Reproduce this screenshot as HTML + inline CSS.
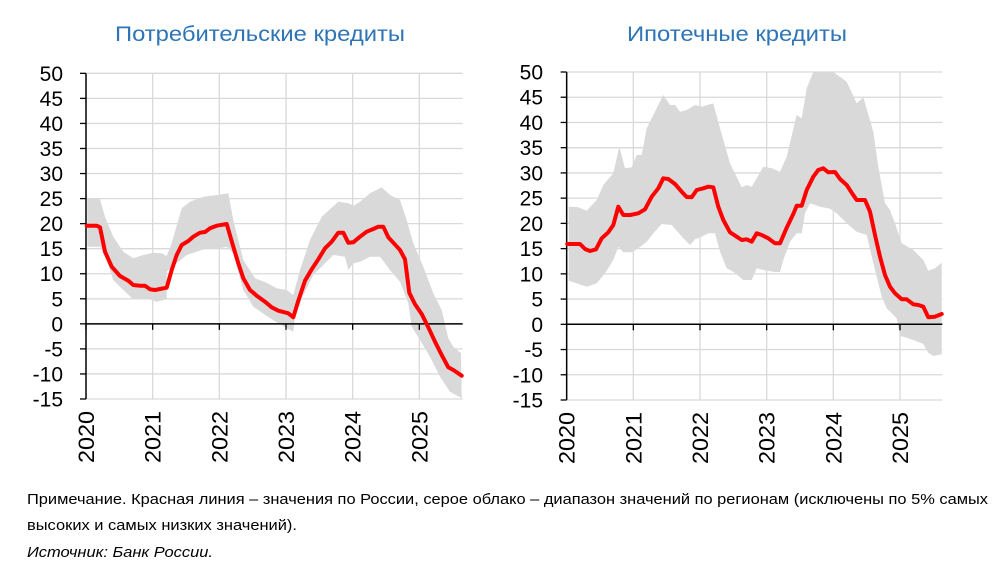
<!DOCTYPE html>
<html><head><meta charset="utf-8"><style>
body{margin:0;background:#fff;width:995px;height:583px;overflow:hidden}
svg{display:block}
text{font-family:"Liberation Sans","DejaVu Sans",sans-serif}
</style></head><body>
<svg id="s" width="995" height="583" xmlns="http://www.w3.org/2000/svg">
<text x="260" y="41" text-anchor="middle" font-size="21" fill="#2E75B6" textLength="290" lengthAdjust="spacingAndGlyphs">Потребительские кредиты</text>
<text x="737" y="41" text-anchor="middle" font-size="21" fill="#2E75B6" textLength="220" lengthAdjust="spacingAndGlyphs">Ипотечные кредиты</text>
<text x="27" y="504" font-size="15" textLength="961" lengthAdjust="spacingAndGlyphs">Примечание. Красная линия – значения по России, серое облако – диапазон значений по регионам (исключены по 5% самых</text>
<text x="27" y="530" font-size="15" textLength="270" lengthAdjust="spacingAndGlyphs">высоких и самых низких значений).</text>
<text x="27" y="557" font-size="15" font-style="italic" textLength="186" lengthAdjust="spacingAndGlyphs">Источник: Банк России.</text>
<g id="c1"></g><g id="c2"></g>
</svg>
<script>
var NS="http://www.w3.org/2000/svg";
function el(p,t,a,txt){var e=document.createElementNS(NS,t);for(var k in a)e.setAttribute(k,a[k]);if(txt!=null)e.textContent=txt;p.appendChild(e);return e;}
function pts(a,ox){var r=[];for(var i=0;i<a.length;i+=2)r.push((ox+a[i]/3).toFixed(1)+","+(60+a[i+1]/3).toFixed(1));return r.join(" ");}
function chart(g,ox,zAxis,zTop,zBot,zRight,labRight,band,line){
 var ax=ox+zAxis/3,top=60+zTop/3,bot=60+zBot/3,right=ox+zRight/3;
 var step=(bot-top)/13,yw=200/3;
 el(g,"polygon",{points:pts(band,ox),fill:"#d9d9d9"});
 for(var i=0;i<=13;i++){var y=top+i*step;el(g,"line",{x1:ax,x2:right,y1:y,y2:y,stroke:"#d9d9d9","stroke-width":1.3});}
 for(var j=1;j<=5;j++){var x=ax+j*yw;el(g,"line",{x1:x,x2:x,y1:top,y2:bot,stroke:"#d9d9d9","stroke-width":1.3});}
 var z=top+10*step;
 el(g,"line",{x1:ax,x2:right,y1:z,y2:z,stroke:"#000","stroke-width":1.5});
 el(g,"line",{x1:ax,x2:ax,y1:top,y2:bot,stroke:"#000","stroke-width":1.5});
 for(var i=0;i<=13;i++){var y=top+i*step;el(g,"line",{x1:ax-6,x2:ax,y1:y,y2:y,stroke:"#000","stroke-width":1.3});
  el(g,"text",{x:labRight,y:y+7.5,"text-anchor":"end","font-size":21,fill:"#000"},String(50-5*i));}
 for(var j=0;j<=5;j++){var x=ax+j*yw;el(g,"line",{x1:x,x2:x,y1:z,y2:z+6,stroke:"#000","stroke-width":1.3});
  el(g,"text",{x:0,y:0,"font-size":22,"text-anchor":"end",textLength:52,lengthAdjust:"spacingAndGlyphs",transform:"translate("+(x+8)+","+(bot+12)+") rotate(-90)"},String(2020+j));}
 el(g,"polyline",{points:pts(line,ox),fill:"none",stroke:"#ff0000","stroke-width":4,"stroke-linejoin":"round","stroke-linecap":"round"});
}
var L1=[260,497,290,497,300,502,315,575,335,620,360,648,385,662,400,675,420,677,435,677,450,688,465,690,480,687,500,683,515,630,530,585,545,555,565,543,580,530,600,518,615,516,630,505,650,497,680,492,700,560,715,610,730,655,750,690,770,707,795,725,815,742,835,752,865,760,880,772,895,722,915,662,935,628,955,598,975,565,995,545,1015,518,1030,518,1045,548,1060,547,1080,530,1100,515,1120,507,1135,500,1150,500,1165,532,1180,548,1200,570,1215,598,1228,698,1245,733,1265,762,1285,802,1305,845,1325,885,1345,922,1360,930,1385,947];
var B1=[262,415,300,418,315,470,340,530,370,575,400,595,430,585,460,578,485,580,500,588,515,550,545,445,570,425,610,410,650,405,685,400,700,480,730,600,765,655,800,668,830,685,860,690,880,705,900,630,930,540,965,470,1015,425,1045,430,1060,437,1080,425,1110,400,1145,382,1170,405,1200,420,1220,480,1240,550,1270,620,1300,700,1325,750,1345,835,1360,860,1383,880,1385,1015,1350,995,1320,950,1290,890,1260,840,1235,800,1225,730,1200,665,1170,630,1140,590,1110,590,1080,605,1060,610,1045,630,1035,590,1000,585,970,615,940,645,910,705,885,770,880,815,860,805,835,790,800,768,760,740,730,690,700,580,680,560,660,565,640,565,620,565,590,575,560,585,530,610,500,635,500,718,470,725,455,720,430,715,400,718,370,690,340,660,320,600,300,560,262,560];
var L2=[232,552,270,552,285,567,300,573,318,568,335,535,355,517,370,495,385,440,400,465,420,465,445,460,465,448,485,410,505,385,520,355,535,357,555,372,575,395,590,411,605,412,620,390,640,385,655,380,670,382,685,440,700,480,720,517,740,530,755,540,770,538,785,545,800,520,815,525,835,535,855,550,870,550,890,503,910,462,920,437,935,437,950,390,970,350,985,330,1000,325,1015,337,1035,336,1050,357,1070,375,1085,398,1100,420,1115,420,1125,420,1140,455,1155,525,1170,590,1185,645,1200,680,1215,700,1235,718,1250,718,1270,733,1285,735,1300,740,1315,772,1335,770,1355,762];
var B2=[236,440,265,442,290,452,320,420,340,375,370,340,388,260,405,325,425,322,440,285,455,285,470,205,490,165,520,105,540,135,555,135,570,155,590,150,615,135,635,140,670,130,690,205,720,310,755,382,770,375,785,380,800,355,820,320,845,325,870,335,890,290,920,165,935,175,950,85,970,36,1030,36,1070,65,1100,130,1120,112,1150,215,1165,320,1185,430,1200,450,1215,490,1235,550,1270,570,1300,600,1315,632,1335,625,1355,608,1355,883,1330,888,1315,878,1300,852,1270,840,1250,833,1230,828,1220,775,1190,745,1175,710,1150,610,1130,525,1100,515,1070,490,1040,460,1020,446,990,440,960,430,945,460,935,520,920,520,900,545,880,600,870,637,850,635,820,630,800,625,785,660,760,660,730,635,710,625,690,575,675,520,655,520,635,530,615,538,600,555,580,535,560,512,545,495,515,492,490,520,470,545,445,565,425,577,400,577,385,560,370,600,345,640,320,670,290,680,260,670,236,662];
chart(document.getElementById("c1"),0,258,40,1017,1388,63,B1,L1);
chart(document.getElementById("c2"),490,230,36,1020,1357,543,B2,L2);
</script>
</body></html>
